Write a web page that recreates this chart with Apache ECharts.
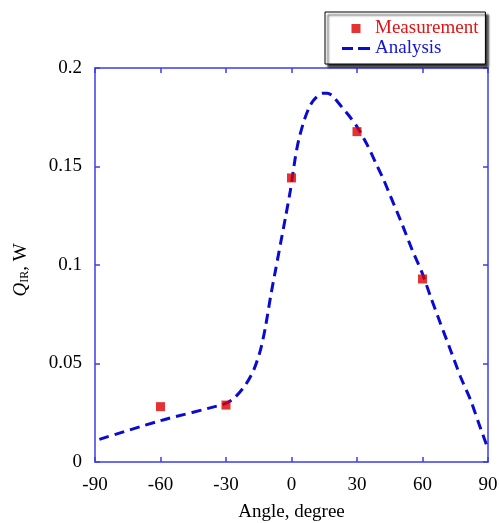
<!DOCTYPE html>
<html>
<head>
<meta charset="utf-8">
<script src="https://cdn.jsdelivr.net/npm/echarts@6/dist/echarts.min.js"></script>
<style>
    html, body { margin: 0; padding: 0; background: #fff; }
    #chart { width: 499px; height: 523px; }
</style>
</head>
<body>
<div id="chart"></div>
<script>
// measured points
const angleMeas = [-60, -30, 0, 30, 60]
const qMeas = [0.0281, 0.0289, 0.1442, 0.1677, 0.0929]

// analysis curve
const angleFit = [-88, -60, -31, -26.4, -21.1, -17.3, -14.2, -11.9, -9.6, -7.3, -5, -2.7, -0.5, 1.8, 3.3, 5.6, 7.9, 10.2, 14.1, 16.4, 18.6, 23.2, 26.2, 30.1, 34.7, 38.5, 42.3, 45.3, 49.9, 55.3, 59.9, 63.7, 68.2, 72.8, 77.4, 82, 85.8, 89.6]
const qFit = [0.0115, 0.021, 0.0294, 0.0323, 0.0391, 0.0467, 0.0569, 0.0687, 0.0839, 0.0975, 0.111, 0.1245, 0.138, 0.155, 0.1635, 0.1727, 0.1795, 0.1838, 0.1872, 0.1872, 0.186, 0.18, 0.176, 0.17, 0.161, 0.152, 0.143, 0.135, 0.1228, 0.1076, 0.0958, 0.0839, 0.0704, 0.0569, 0.0433, 0.0315, 0.0196, 0.0078]

const xTicks = { min: -90, max: 90, interval: 30 }
const yTicks = { min: 0, max: 0.2, interval: 0.05 }

const FONT = 'Liberation Serif'
const AXIS_BLUE = '#3c3cee'

// legend icons: small square centred in the icon box, two dashes for the line
const ICON_SQUARE = 'path://M0,0M28,9M9.5,0h9v9h-9z'
const ICON_DASH = 'path://M0,0h11v3h-11zM16,0h12v3h-12z'

const chart = echarts.init(document.getElementById('chart'))

const axisLine = { show: true, onZero: false, lineStyle: { color: AXIS_BLUE, width: 1.5 } }
const axisTick = { show: true, inside: true, length: 5, lineStyle: { color: AXIS_BLUE, width: 1.5 } }

const option = {
    backgroundColor: '#fff',
    animation: false,
    grid: { left: 95, right: 11, top: 68, bottom: 61, outerBoundsMode: 'none' },
    legend: {
        orient: 'vertical',
        left: 325,
        top: 12,
        padding: [7, 7, 6, 17],
        itemGap: 1,
        itemWidth: 28,
        itemHeight: 9,
        symbolKeepAspect: true,
        backgroundColor: '#fff',
        borderColor: '#000',
        borderWidth: 1,
        shadowColor: 'rgba(0,0,0,0.8)',
        shadowBlur: 2,
        shadowOffsetX: 3,
        shadowOffsetY: 3,
        textStyle: { fontFamily: FONT, fontSize: 19 },
        data: [
            { name: 'Measurement', icon: ICON_SQUARE, textStyle: { color: '#e01414' } },
            { name: 'Analysis', icon: ICON_DASH, textStyle: { color: '#1414dc' } }
        ]
    },
    xAxis: [
        {
            type: 'value',
            position: 'bottom',
            min: xTicks.min,
            max: xTicks.max,
            interval: xTicks.interval,
            name: 'Angle, degree',
            nameLocation: 'middle',
            nameGap: 41,
            nameTextStyle: { fontFamily: FONT, fontSize: 19, color: '#000' },
            axisLine: axisLine,
            axisTick: axisTick,
            axisLabel: { fontFamily: FONT, fontSize: 19, color: '#000', margin: 14 },
            splitLine: { show: false }
        },
        {
            type: 'value',
            position: 'top',
            min: xTicks.min,
            max: xTicks.max,
            interval: xTicks.interval,
            axisLine: axisLine,
            axisTick: axisTick,
            axisLabel: { show: false },
            splitLine: { show: false }
        }
    ],
    yAxis: [
        {
            type: 'value',
            position: 'left',
            min: yTicks.min,
            max: yTicks.max,
            interval: yTicks.interval,
            name: '{q|Q}{sub|IR}, W',
            nameLocation: 'middle',
            nameRotate: 90,
            nameGap: 64,
            nameTextStyle: {
                fontFamily: FONT,
                fontSize: 19,
                color: '#000',
                padding: [0, 10, 0, 0],
                rich: {
                    q: { fontFamily: FONT, fontSize: 19, fontStyle: 'italic', color: '#000' },
                    sub: { fontFamily: FONT, fontSize: 12, color: '#000', verticalAlign: 'bottom', padding: [8, 0, 0, 0] }
                }
            },
            axisLine: axisLine,
            axisTick: axisTick,
            axisLabel: { fontFamily: FONT, fontSize: 19, color: '#000', margin: 13 },
            splitLine: { show: false }
        },
        {
            type: 'value',
            position: 'right',
            min: yTicks.min,
            max: yTicks.max,
            interval: yTicks.interval,
            axisLine: axisLine,
            axisTick: axisTick,
            axisLabel: { show: false },
            splitLine: { show: false }
        }
    ],
    series: [
        {
            name: 'Measurement',
            type: 'scatter',
            symbol: 'rect',
            symbolSize: 9,
            itemStyle: { color: '#dd0000' },
            data: angleMeas.map((a, i) => [a, qMeas[i]]),
            z: 3
        },
        {
            name: 'Analysis',
            type: 'line',
            smooth: 0.25,
            showSymbol: false,
            symbol: 'none',
            lineStyle: { color: '#0a0ad2', width: 3, type: [10, 6] },
            itemStyle: { color: '#0a0ad2' },
            data: angleFit.map((a, i) => [a, qFit[i]]),
            z: 2
        }
    ]
}

chart.setOption(option)
</script>
</body>
</html>
